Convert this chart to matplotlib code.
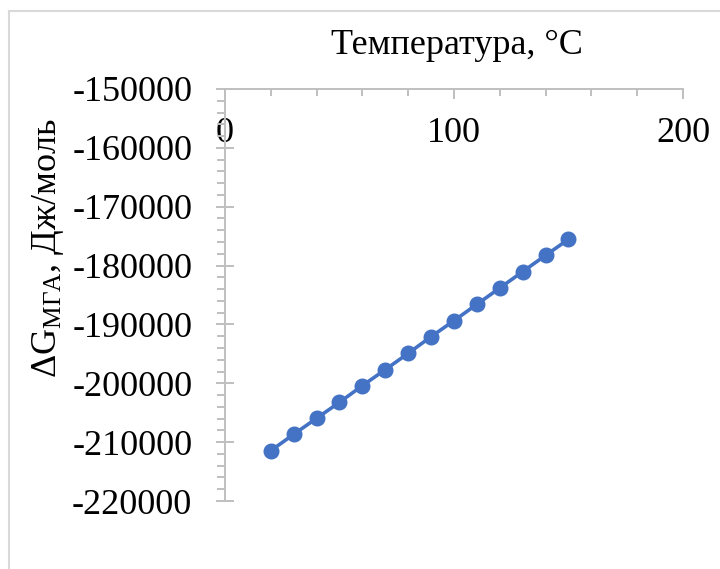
import matplotlib
matplotlib.use("Agg")
import matplotlib.pyplot as plt
from matplotlib.lines import Line2D
from matplotlib.ticker import MultipleLocator

plt.rcParams["font.family"] = ["Liberation Serif", "DejaVu Serif"]
plt.rcParams["mathtext.fontset"] = "custom"
plt.rcParams["mathtext.rm"] = "Liberation Serif"

# Gibbs energy vs temperature
temperature = [20, 30, 40, 50, 60, 70, 80, 90, 100, 110, 120, 130, 140, 150]
delta_g = [-211450, -208670, -205950, -203230, -200400, -197680, -194910,
           -192080, -189360, -186580, -183810, -181030, -178260, -175540]

AXIS_GRAY = "#BFBFBF"
LINE_BLUE = "#4472C4"
FS = 26

fig = plt.figure(figsize=(7.2, 5.69), dpi=100)
ax = fig.add_axes([0.3125, 0.1195, 0.6361, 0.7241])

ax.plot(temperature, delta_g, color=LINE_BLUE, lw=2.6, marker="o",
        ms=10.5, mfc=LINE_BLUE, mec=LINE_BLUE, zorder=3)

ax.set_xlim(0, 200)
ax.set_ylim(-220000, -150000)

for side in ("right", "bottom"):
    ax.spines[side].set_visible(False)
for side in ("left", "top"):
    ax.spines[side].set_color(AXIS_GRAY)
    ax.spines[side].set_linewidth(1.4)

# x axis runs along the top, labels sit just under it
ax.xaxis.set_ticks_position("top")
ax.xaxis.set_major_locator(MultipleLocator(100))
ax.xaxis.set_minor_locator(MultipleLocator(20))
ax.tick_params(axis="x", which="major", direction="in", length=7, width=1.4,
               color=AXIS_GRAY, labelsize=FS, labeltop=True,
               labelbottom=False, pad=-44)
ax.tick_params(axis="x", which="minor", direction="in", length=5, width=1.4,
               color=AXIS_GRAY)

ax.yaxis.set_major_locator(MultipleLocator(10000))
ax.yaxis.set_minor_locator(MultipleLocator(2000))
ax.tick_params(axis="y", which="major", direction="inout", length=13,
               width=1.4, color=AXIS_GRAY, labelsize=FS, pad=17)
ax.tick_params(axis="y", which="minor", direction="out", length=6,
               width=1.4, color=AXIS_GRAY)
ax.set_yticklabels([f"{int(v)}" for v in ax.get_yticks()])

fig.text(457 / 720, 1 - 45 / 569, "Температура, °C", fontsize=FS,
         ha="center", va="center")
fig.text(48 / 720, 1 - 248 / 569,
         r"$\mathregular{\Delta G_{МГА}}$, Дж/моль", fontsize=FS,
         rotation=90, ha="center", va="center")

# chart area frame (extends past the right and bottom edges)
frame_kw = dict(color="#D9D9D9", lw=1.5, transform=fig.transFigure)
fig.add_artist(Line2D([8.5 / 720, 1.0], [1 - 11 / 569] * 2, **frame_kw))
fig.add_artist(Line2D([8.5 / 720] * 2, [0.0, 1 - 11 / 569], **frame_kw))

fig.savefig("out.png", dpi=100)
